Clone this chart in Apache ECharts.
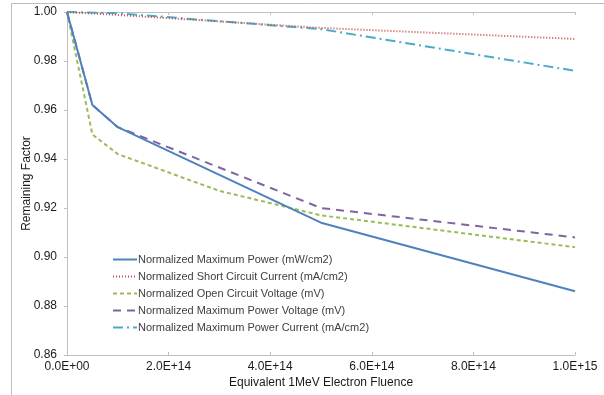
<!DOCTYPE html>
<html>
<head>
<meta charset="utf-8">
<script src="https://cdn.jsdelivr.net/npm/echarts@6/dist/echarts.min.js"></script>
<style>
  html, body { margin: 0; padding: 0; background: #fff; }
  #chart { width: 604px; height: 395px; }
</style>
</head>
<body>
<div id="chart"></div>
<script>
// fluence points (electrons/cm2)
var fluence = [0, 5e13, 1e14, 3e14, 5e14, 1e15];

var seriesNames = [
  'Normalized Maximum Power (mW/cm2)',
  'Normalized Short Circuit Current (mA/cm2)',
  'Normalized Open Circuit Voltage (mV)',
  'Normalized Maximum Power Voltage (mV)',
  'Normalized Maximum Power Current (mA/cm2)'
];

// values, null = no point there
var maxPower     = [1.000, 0.962, 0.953, null, 0.914, 0.886];
var shortCurrent = [1.000, null, 0.9988, null, 0.9935, 0.989];
var openVoltage  = [1.000, 0.950, 0.942, 0.927, 0.917, 0.904];
var mpVoltage    = [1.000, 0.962, 0.953, null, 0.920, 0.908];
var mpCurrent    = [1.000, null, 0.9995, null, 0.993, 0.976];

var colors = ['#4F81BD', '#C0504D', '#9BBB59', '#8064A2', '#4BACC6'];
var dashes = ['solid', [1, 2], [4, 3], [8, 6], [10, 4, 2, 4]];

function pairs(vals) {
  var out = [];
  for (var i = 0; i < fluence.length; i++) {
    if (vals[i] != null) out.push([fluence[i], vals[i]]);
  }
  return out;
}

function sci(v) {
  var s = v.toExponential(1).toUpperCase();
  var p = s.split('E');
  var e = parseInt(p[1], 10);
  var ee = Math.abs(e) < 10 ? '0' + Math.abs(e) : '' + Math.abs(e);
  return p[0] + 'E' + (e < 0 ? '-' : '+') + ee;
}

var allData = [maxPower, shortCurrent, openVoltage, mpVoltage, mpCurrent];
var series = [];
for (var k = 0; k < allData.length; k++) {
  series.push({
    name: seriesNames[k],
    type: 'line',
    data: pairs(allData[k]),
    symbol: 'none',
    z: 10 - k,
    lineStyle: { color: colors[k], width: 2, type: dashes[k] },
    itemStyle: { color: colors[k] }
  });
}

var chart = echarts.init(document.getElementById('chart'));
var axisFont = { color: '#1a1a1a', fontSize: 12, fontFamily: 'Liberation Sans, Arial, sans-serif' };
chart.setOption({
  animation: false,
  textStyle: { fontFamily: 'Liberation Sans, Arial, sans-serif' },
  graphic: [{
    type: 'rect',
    shape: { x: 11.5, y: 3.5, width: 700, height: 500 },
    style: { fill: 'none', stroke: '#bdbdbd', lineWidth: 1 },
    silent: true
  }],
  grid: { left: 67, right: 29, top: 12, bottom: 40 },
  legend: {
    orient: 'vertical',
    left: 107,
    top: 249,
    itemWidth: 24,
    itemHeight: 10,
    itemGap: 6,
    itemStyle: { opacity: 0 },
    textStyle: { color: '#404040', fontSize: 11, padding: [0, 0, 0, -4] },
    data: seriesNames
  },
  xAxis: [{
    type: 'value',
    min: 0,
    max: 1e15,
    interval: 2e14,
    name: 'Equivalent 1MeV Electron Fluence',
    nameLocation: 'middle',
    nameGap: 22,
    nameMoveOverlap: false,
    nameTextStyle: { color: '#1a1a1a', fontSize: 12 },
    axisLine: { lineStyle: { color: '#bfbfbf' } },
    axisTick: { show: true, inside: true, length: 3, lineStyle: { color: '#bfbfbf' } },
    axisLabel: Object.assign({ formatter: sci, margin: 6 }, axisFont),
    splitLine: { show: false }
  }, {
    type: 'value',
    position: 'top',
    min: 0,
    max: 1e15,
    interval: 2e14,
    axisLine: { show: true, lineStyle: { color: '#bfbfbf' } },
    axisTick: { show: true, inside: true, length: 3, lineStyle: { color: '#bfbfbf' } },
    axisLabel: { show: false },
    splitLine: { show: false }
  }],
  yAxis: [{
    type: 'value',
    min: 0.86,
    max: 1.0,
    interval: 0.02,
    name: 'Remaining Factor',
    nameLocation: 'middle',
    nameGap: 34,
    nameMoveOverlap: false,
    nameTextStyle: { color: '#1a1a1a', fontSize: 12 },
    axisLine: { show: true, lineStyle: { color: '#bfbfbf' } },
    axisTick: { show: true, length: 3, lineStyle: { color: '#bfbfbf' } },
    axisLabel: Object.assign({ formatter: function (v) { return v.toFixed(2); }, margin: 10 }, axisFont),
    splitLine: { show: false }
  }, {
    type: 'value',
    position: 'right',
    min: 0.86,
    max: 1.0,
    interval: 0.02,
    axisLine: { show: true, lineStyle: { color: '#bfbfbf' } },
    axisTick: { show: true, inside: true, length: 3, lineStyle: { color: '#bfbfbf' } },
    axisLabel: { show: false },
    splitLine: { show: false }
  }],
  series: series
});
</script>
</body>
</html>
